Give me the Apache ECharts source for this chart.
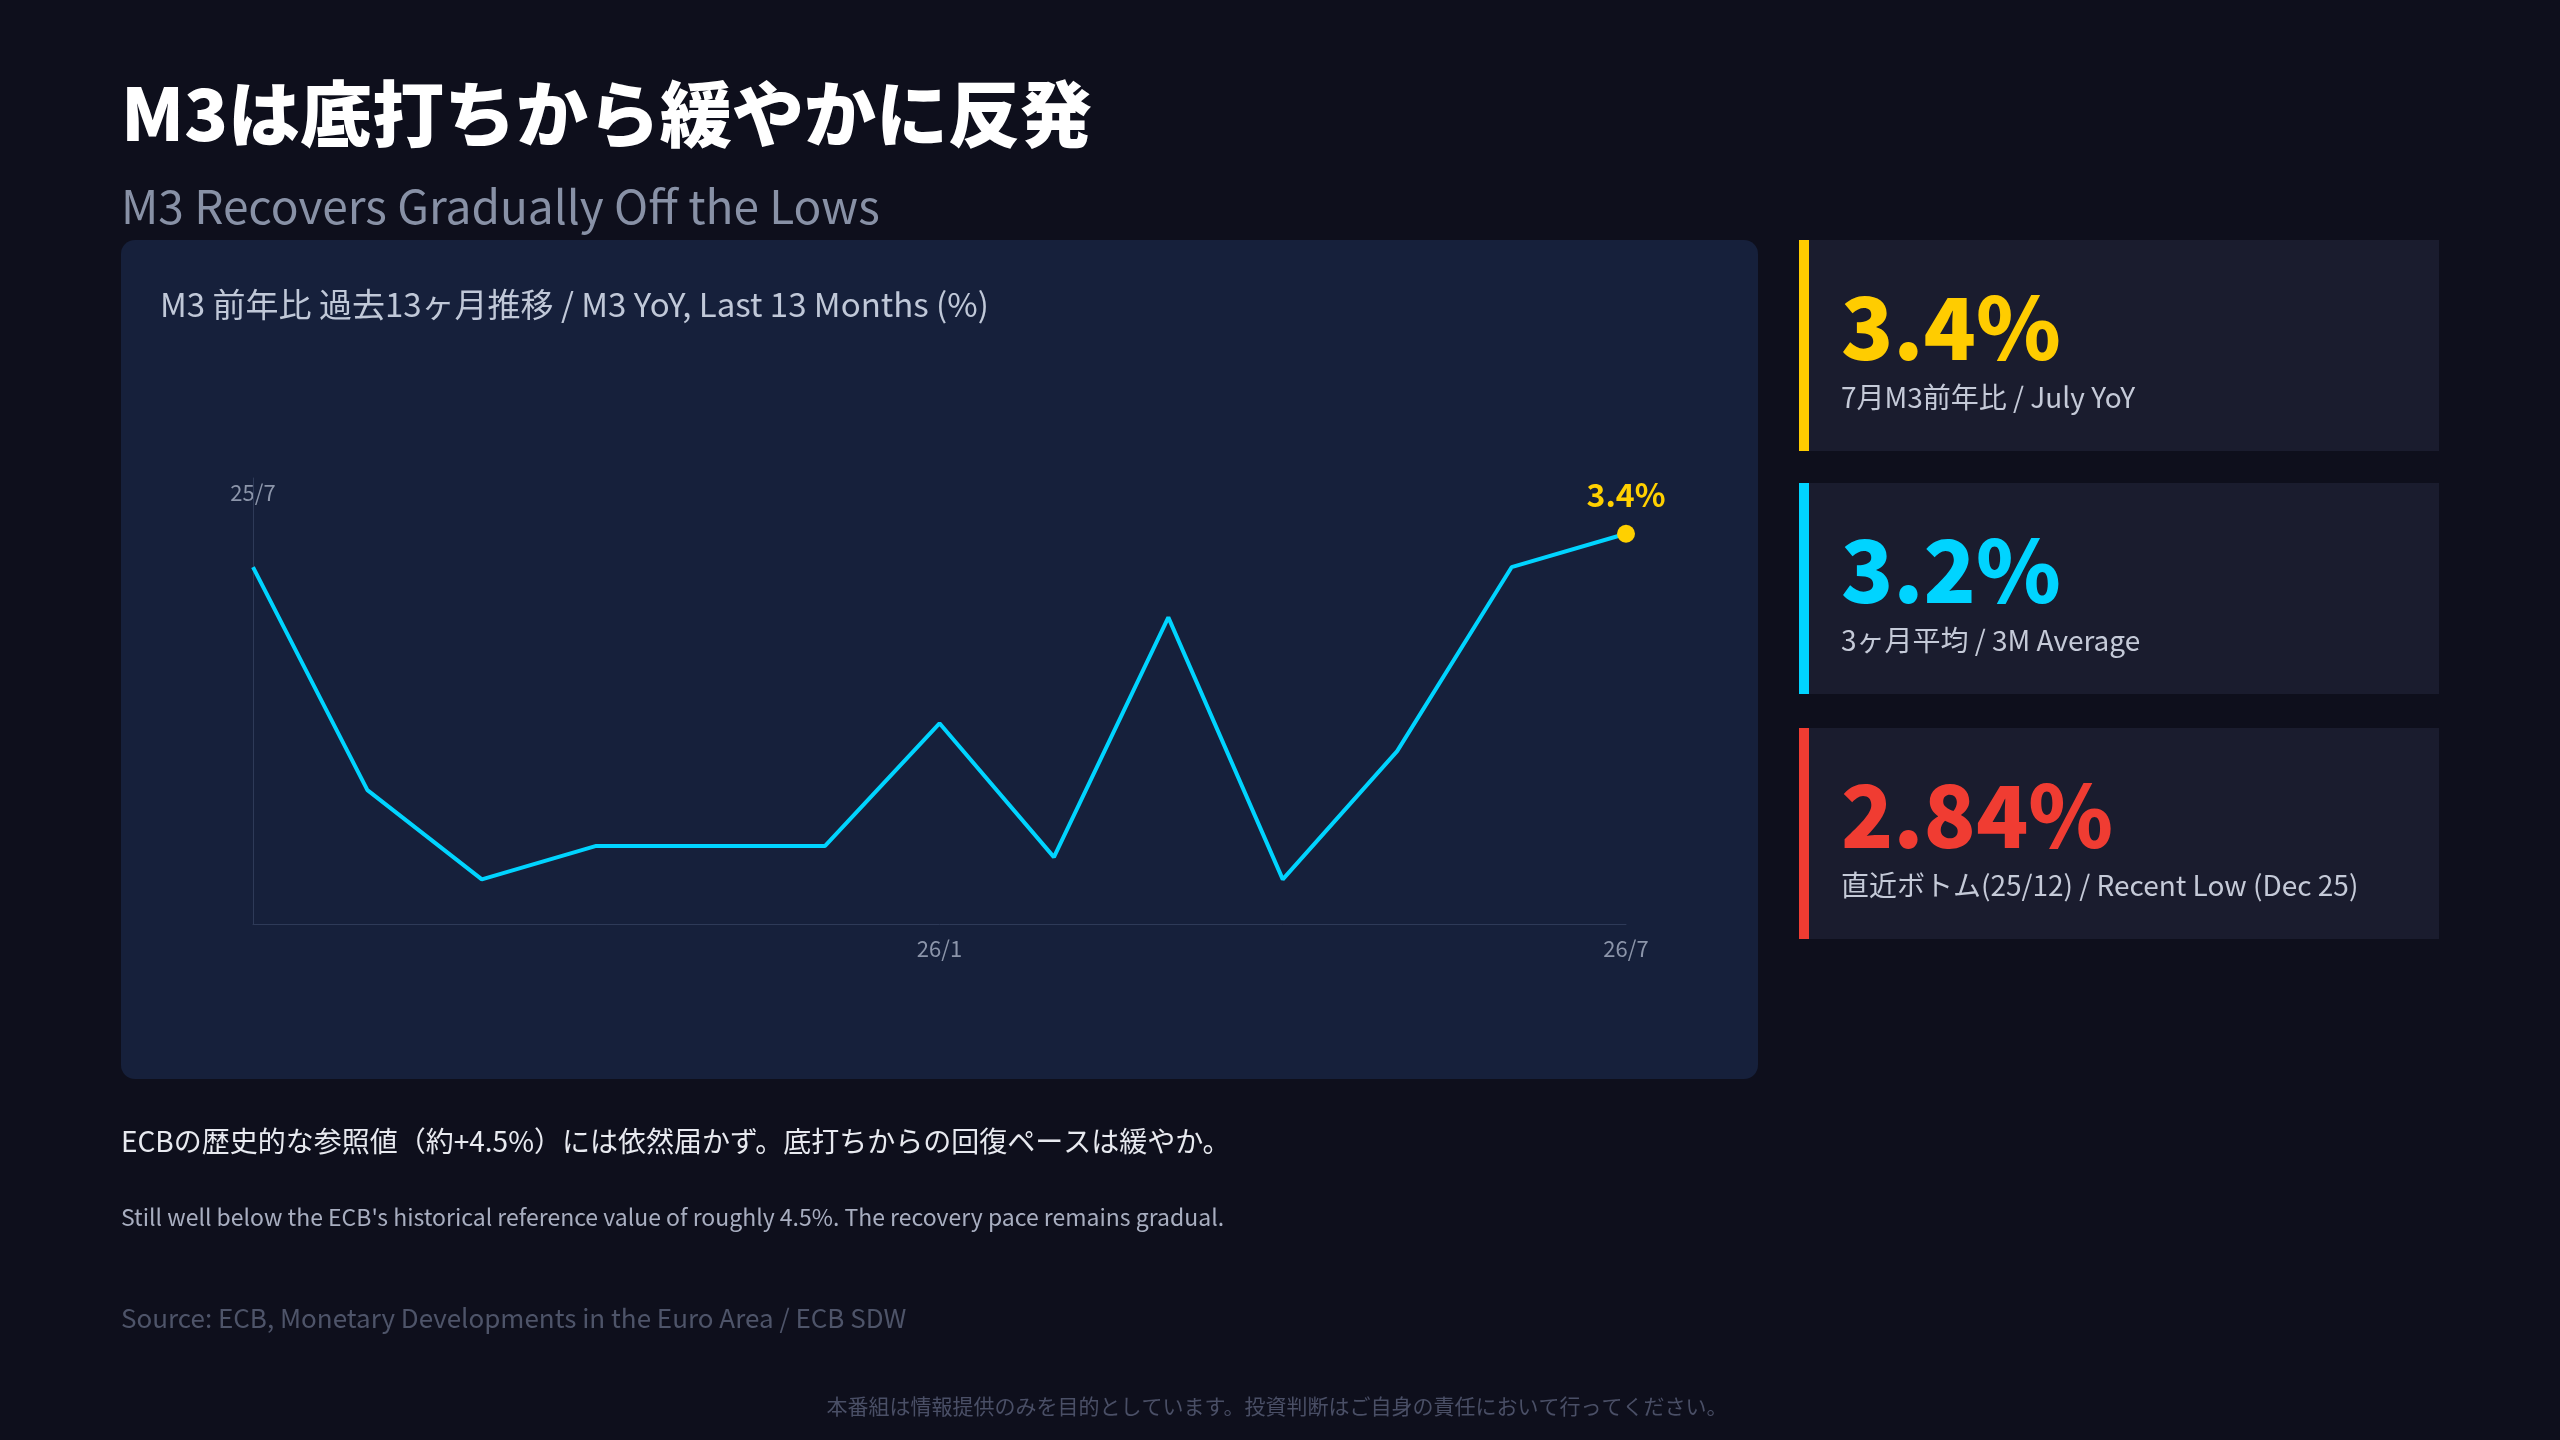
<!DOCTYPE html><html><head><meta charset="utf-8">
<script src="https://cdn.jsdelivr.net/npm/echarts@6/dist/echarts.min.js"></script>
<style>html,body{margin:0;background:#0e0f1c}#c{width:2560px;height:1440px}</style></head><body><div id="c"></div>
<script>
const months=['25/7','25/8','25/9','25/10','25/11','25/12','26/1','26/2','26/3','26/4','26/5','26/6','26/7'];
const m3=[3.34,2.94,2.78,2.84,2.84,2.84,3.06,2.82,3.25,2.78,3.01,3.34,3.4];
const xLabels=['','26/1','26/7'];
const F='"Noto Sans CJK JP","Noto Sans",sans-serif';
const ch=echarts.init(document.getElementById('c'));
function card(y,color,big,sub){return [
 {type:'rect',shape:{x:1799,y:y,width:640,height:211},style:{fill:'#1a1c2e'}},
 {type:'rect',shape:{x:1799,y:y,width:10,height:211},style:{fill:color}},
 {type:'text',x:1841,y:y+87,style:{text:big,fill:color,font:'900 86px '+F,textVerticalAlign:'middle'}},
 {type:'text',x:1841,y:y+157,style:{text:sub,fill:'#c5cad8',font:'28px '+F,textVerticalAlign:'middle'}}];}
ch.setOption({backgroundColor:'#0e0f1c',
 grid:{left:253,right:2560-1626,top:478,bottom:1440-924},
 xAxis:{type:'category',data:months,boundaryGap:false,axisLine:{lineStyle:{color:'#2e3a58'}},axisTick:{show:false},
  axisLabel:{color:'#8c95aa',fontSize:22,fontFamily:F,margin:14,interval:0,formatter:(v,i)=>i===6||i===12?v:''}},
 yAxis:{type:'value',min:2.7,max:3.5,axisLabel:{show:false},splitLine:{show:false},axisLine:{show:true,lineStyle:{color:'#2e3a58'}}},
 series:[{type:'line',data:m3.map((v,i)=>i===12?{value:v,symbol:'circle',symbolSize:18,itemStyle:{color:'#ffd000'},label:{show:true,position:'top',distance:14,formatter:'3.4%',color:'#ffd000',fontSize:32,fontWeight:'bold',fontFamily:F}}:v),
  showSymbol:true,symbol:'none',lineStyle:{color:'#00d4ff',width:4},z:3}],
 graphic:[
  {type:'rect',z:-10,shape:{x:121,y:240,width:1637,height:839,r:14},style:{fill:'#16203b'}},
  {type:'text',x:121,y:114,style:{text:'M3は底打ちから緩やかに反発',fill:'#ffffff',font:'900 72px '+F,textVerticalAlign:'middle'}},
  {type:'text',x:121,y:207,style:{text:'M3 Recovers Gradually Off the Lows',fill:'#8891a6',font:'46px '+F,textVerticalAlign:'middle'}},
  {type:'text',x:160,y:304,style:{text:'M3 前年比 過去13ヶ月推移 / M3 YoY, Last 13 Months (%)',fill:'#c0c8d8',font:'33px '+F,textVerticalAlign:'middle'}},
  {type:'text',x:253,y:493,style:{text:'25/7',fill:'#8c95aa',font:'22px '+F,textAlign:'center',textVerticalAlign:'middle'}},
  ...card(240,'#ffcc00','3.4%','7月M3前年比 / July YoY'),
  ...card(483,'#00d4ff','3.2%','3ヶ月平均 / 3M Average'),
  ...card(728,'#f03c32','2.84%','直近ボトム(25/12) / Recent Low (Dec 25)'),
  {type:'text',x:121,y:1141,style:{text:'ECBの歴史的な参照値（約+4.5%）には依然届かず。底打ちからの回復ペースは緩やか。',fill:'#e8eaf0',font:'28px '+F,textVerticalAlign:'middle'}},
  {type:'text',x:121,y:1217,style:{text:"Still well below the ECB's historical reference value of roughly 4.5%. The recovery pace remains gradual.",fill:'#a8aec0',font:'23px '+F,textVerticalAlign:'middle'}},
  {type:'text',x:121,y:1318,style:{text:'Source: ECB, Monetary Developments in the Euro Area / ECB SDW',fill:'#4e5469',font:'26px '+F,textVerticalAlign:'middle'}},
  {type:'text',x:1277,y:1406,style:{text:'本番組は情報提供のみを目的としています。投資判断はご自身の責任において行ってください。',fill:'#4a4f66',font:'21px '+F,textAlign:'center',textVerticalAlign:'middle'}}
 ]});
</script></body></html>
